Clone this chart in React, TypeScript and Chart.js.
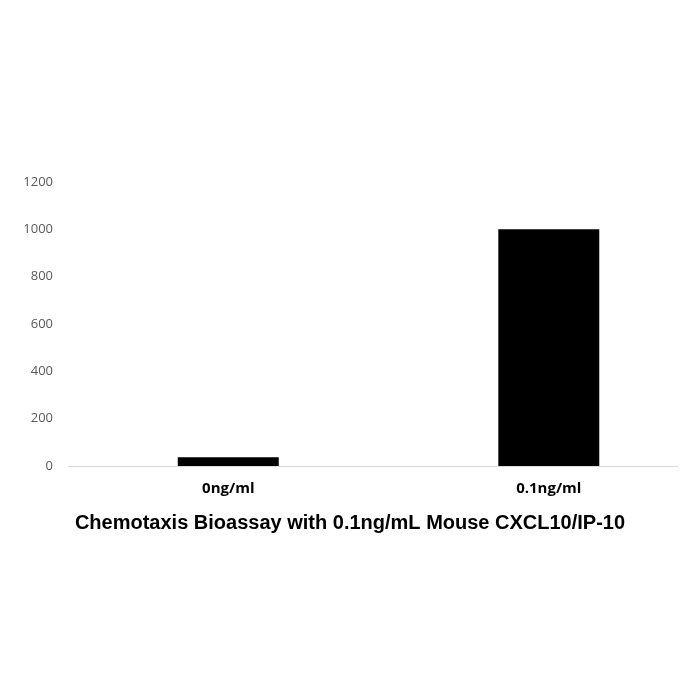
import React, { useEffect, useRef } from "react";
import { Chart, registerables } from "chart.js";

Chart.register(...registerables);

const categories = ["0ng/ml", "0.1ng/ml"];
const values = [37, 1000];
const yTicks = [0, 200, 400, 600, 800, 1000, 1200];
const titleText = "Chemotaxis Bioassay with 0.1ng/mL Mouse CXCL10/IP-10";

export default function App() {
  const ref = useRef<HTMLCanvasElement | null>(null);
  useEffect(() => {
    if (!ref.current) return;
    const chart = new Chart(ref.current, {
      type: "bar",
      data: {
        labels: categories,
        datasets: [
          {
            data: values,
            backgroundColor: "#000000",
            borderWidth: 0,
            barPercentage: 1,
            categoryPercentage: 0.315,
          },
        ],
      },
      options: {
        animation: false,
        responsive: false,
        maintainAspectRatio: false,
        layout: { padding: { top: 182, left: 23, right: 23, bottom: 165 } },
        plugins: {
          legend: { display: false },
          tooltip: { enabled: false },
          title: {
            display: true,
            text: titleText,
            position: "bottom",
            color: "#000000",
            font: { family: "Liberation Sans", size: 20, weight: "bold" },
            padding: { top: 9, bottom: 0 },
          },
        },
        scales: {
          x: {
            type: "category",
            offset: false,
            afterBuildTicks: (scale: any) => {
              scale._startValue = -0.5;
              scale._valueRange = 1.9;
            },
            afterFit: (scale: any) => {
              scale.height = 36;
            },
            grid: { display: false, drawTicks: false },
            border: { display: true, color: "#d9d9d9", width: 1 },
            ticks: {
              color: "#000000",
              padding: 14,
              font: { family: "Open Sans", size: 15, weight: "bold" },
            },
          },
          y: {
            min: 0,
            max: 1200,
            afterBuildTicks: (scale: any) => {
              scale.ticks = yTicks.map((v) => ({ value: v }));
            },
            afterFit: (scale: any) => {
              scale.width = 45;
            },
            grid: { display: false, drawTicks: false },
            border: { display: false },
            ticks: {
              color: "#595959",
              padding: 15,
              font: { family: "Open Sans", size: 13 },
              callback: (v: any) => String(v),
            },
          },
        },
      },
    });
    return () => chart.destroy();
  }, []);
  return (
    <div style={{ position: "absolute", left: 0, top: 0, width: 700, height: 700, background: "#fff" }}>
      <canvas ref={ref} width={700} height={700} style={{ width: 700, height: 700, display: "block" }} />
    </div>
  );
}
